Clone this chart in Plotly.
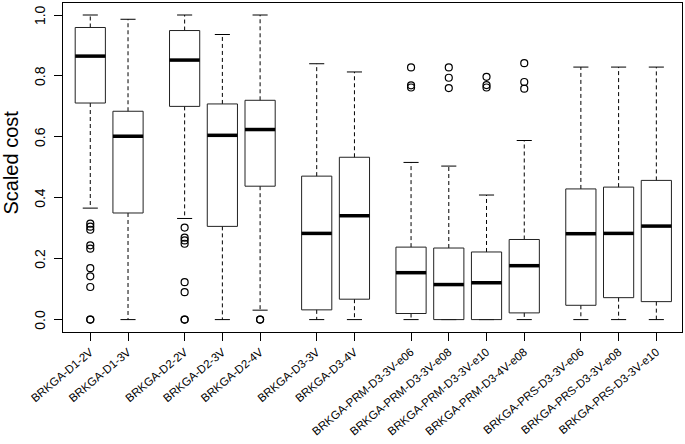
import plotly.graph_objects as go

# ---- data ----
labels = ["BRKGA-D1-2V", "BRKGA-D1-3V",
          "BRKGA-D2-2V", "BRKGA-D2-3V", "BRKGA-D2-4V",
          "BRKGA-D3-3V", "BRKGA-D3-4V",
          "BRKGA-PRM-D3-3V-e06", "BRKGA-PRM-D3-3V-e08", "BRKGA-PRM-D3-3V-e10", "BRKGA-PRM-D3-4V-e08",
          "BRKGA-PRS-D3-3V-e06", "BRKGA-PRS-D3-3V-e08", "BRKGA-PRS-D3-3V-e10"]
group_sizes = [2, 3, 2, 4, 3]

lower_whisker = [0.366, 0.0, 0.332, 0.0, 0.031, 0.0, 0.0, 0.0, 0.0, 0.0, 0.0, 0.0, 0.0, 0.0]
q1 = [0.711, 0.350, 0.700, 0.306, 0.438, 0.032, 0.067, 0.020, 0.0, 0.0, 0.022, 0.047, 0.072, 0.059]
median = [0.865, 0.602, 0.852, 0.605, 0.624, 0.283, 0.341, 0.154, 0.115, 0.121, 0.177, 0.282, 0.283, 0.307]
q3 = [0.959, 0.684, 0.949, 0.708, 0.720, 0.471, 0.533, 0.238, 0.235, 0.222, 0.263, 0.429, 0.435, 0.457]
upper_whisker = [1.0, 0.986, 1.0, 0.936, 1.0, 0.840, 0.813, 0.516, 0.504, 0.409, 0.588, 0.829, 0.829, 0.829]
outliers = [
    [0.315, 0.305, 0.295, 0.244, 0.233, 0.169, 0.142, 0.107, 0.0, 0.0],
    [],
    [0.302, 0.269, 0.260, 0.249, 0.123, 0.090, 0.0, 0.0],
    [],
    [0.0, 0.0],
    [],
    [],
    [0.828, 0.769, 0.762],
    [0.828, 0.794, 0.760],
    [0.797, 0.770, 0.762],
    [0.842, 0.780, 0.758],
    [],
    [],
    [],
]
yticks = [0.0, 0.2, 0.4, 0.6, 0.8, 1.0]

# ---- positions: groups separated by an extra half slot ----
positions = []
p = 1.0
for gi, n in enumerate(group_sizes):
    for k in range(n):
        positions.append(p)
        p += 1.0
    p += 0.5

half_box = 0.4
half_staple = 0.2

bx, by, mx, my, wx, wy, sx, sy, ox, oy = [], [], [], [], [], [], [], [], [], []
for i, x in enumerate(positions):
    bx += [x - half_box, x + half_box, x + half_box, x - half_box, x - half_box, None]
    by += [q1[i], q1[i], q3[i], q3[i], q1[i], None]
    mx += [x - half_box, x + half_box, None]
    my += [median[i], median[i], None]
    wx += [x, x, None, x, x, None]
    wy += [q3[i], upper_whisker[i], None, q1[i], lower_whisker[i], None]
    sx += [x - half_staple, x + half_staple, None, x - half_staple, x + half_staple, None]
    sy += [upper_whisker[i], upper_whisker[i], None, lower_whisker[i], lower_whisker[i], None]
    for v in outliers[i]:
        ox.append(x)
        oy.append(v)

fig = go.Figure()
fig.add_trace(go.Scatter(x=wx, y=wy, mode="lines", line=dict(color="black", width=1, dash="4px,3px"),
                         hoverinfo="skip", showlegend=False))
fig.add_trace(go.Scatter(x=sx, y=sy, mode="lines", line=dict(color="black", width=1),
                         hoverinfo="skip", showlegend=False))
fig.add_trace(go.Scatter(x=bx, y=by, mode="lines", line=dict(color="#222", width=1),
                         hoverinfo="skip", showlegend=False))
fig.add_trace(go.Scatter(x=mx, y=my, mode="lines", line=dict(color="black", width=3.5),
                         hoverinfo="skip", showlegend=False))
fig.add_trace(go.Scatter(x=ox, y=oy, mode="markers",
                         marker=dict(symbol="circle-open", size=7, color="black", line=dict(width=1.2)),
                         hoverinfo="skip", showlegend=False))

font_family = "Liberation Sans, Arial, Helvetica, sans-serif"

annotations = [dict(text="Scaled cost", xref="paper", yref="paper", x=-0.084, y=0.515,
                    xanchor="center", yanchor="middle", textangle=-90, showarrow=False,
                    font=dict(size=20, family=font_family))]
for v in yticks:
    annotations.append(dict(text=f"{v:.1f}", xref="paper", yref="y", x=-0.037, y=v,
                            xanchor="center", yanchor="middle", textangle=-90, showarrow=False,
                            font=dict(size=14, family=font_family)))

fig.update_layout(
    width=685, height=444,
    margin=dict(l=63, r=3, t=3, b=112),
    paper_bgcolor="white", plot_bgcolor="white",
    font=dict(family=font_family, color="black"),
    showlegend=False,
    xaxis=dict(range=[0.277, 16.68], tickmode="array", tickvals=positions, ticktext=labels,
               tickangle=-40, tickfont=dict(size=11.5), ticks="outside", ticklen=8,
               tickcolor="black", showgrid=False, zeroline=False,
               showline=True, linecolor="black", linewidth=1, mirror=True, automargin=False),
    yaxis=dict(range=[-0.0407, 1.0394], tickmode="array", tickvals=yticks,
               showticklabels=False,
               ticks="outside", ticklen=8, tickcolor="black",
               showgrid=False, zeroline=False,
               showline=True, linecolor="black", linewidth=1, mirror=True, automargin=False),
    annotations=annotations,
)

fig.write_html("out.html", config={"displayModeBar": False},
               post_script="document.body.style.margin='0';")
